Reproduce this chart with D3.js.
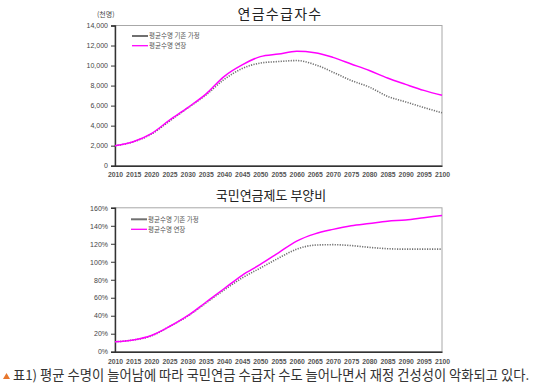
<!DOCTYPE html>
<html><head><meta charset="utf-8">
<script src="https://cdn.jsdelivr.net/npm/d3@7"></script>
<style>
body{margin:0;background:#fff;}
svg{display:block;font-family:"Liberation Sans",Arial,sans-serif;}
.kr{font-family:"Noto Sans CJK KR","Noto Sans",sans-serif;}
</style></head><body>
<svg id="c" width="550" height="383"></svg>
<script>
const years = [2010,2015,2020,2025,2030,2035,2040,2045,2050,2055,2060,2065,2070,2075,2080,2085,2090,2095,2100];
const seriesNames = ["평균수명 기존 가정","평균수명 연장"];
// 연금수급자수 (천명)
const recipBase = [2000,2380,3150,4450,5750,7050,8600,9700,10250,10400,10500,10100,9340,8510,7850,6930,6370,5810,5280];
const recipExt  = [2000,2400,3200,4550,5800,7150,8900,10060,10890,11150,11420,11290,10820,10160,9500,8750,8120,7520,7030];
// 국민연금제도 부양비 (%)
const depBase = [11,13,17.5,28,39.5,54,68.5,82,93,104,114,118.5,119,118,116,114.5,114,114,114];
const depExt  = [11,13,18,28,40,55,70,85,97,110,123,131,136,140,142.5,145,146.5,149,151.5];
const topTicks = [0,2000,4000,6000,8000,10000,12000,14000];
const botTicks = [0,20,40,60,80,100,120,140,160];
const titles = ["연금수급자수","국민연금제도 부양비"];
const unitLabel = "(천명)";
const caption = "표1) 평균 수명이 늘어남에 따라 국민연금 수급자 수도 늘어나면서 재정 건성성이 악화되고 있다.";

const svg = d3.select("#c");
const colBase = "#707070", colExt = "#ff00ff";

function panel(o){
  const x = d3.scaleLinear().domain([2010,2100]).range([o.left,o.right]);
  const y = d3.scaleLinear().domain(o.domain).range([o.bottom,o.top]);
  const g = svg.append("g");
  g.append("rect").attr("x",o.left).attr("y",o.top).attr("width",o.right-o.left).attr("height",o.bottom-o.top)
    .attr("fill","none").attr("stroke","#a8a8a8").attr("stroke-width",1);
  const ya = g.append("g").attr("transform",`translate(${o.left},0)`)
    .call(d3.axisLeft(y).tickValues(o.ticks).tickSize(4).tickPadding(3).tickFormat(o.fmt));
  ya.select(".domain").attr("stroke","#333").attr("stroke-width",1.4);
  ya.selectAll(".tick line").attr("stroke","#333");
  ya.selectAll("text").attr("font-size",7).attr("fill","#444");
  const xa = g.append("g").attr("transform",`translate(0,${o.bottom})`)
    .call(d3.axisBottom(x).tickValues(years).tickSize(0).tickPadding(o.xpad).tickFormat(d3.format("d")));
  xa.select(".domain").attr("stroke","#333").attr("stroke-width",1.4);
  xa.selectAll("text").attr("font-size",6.8).attr("fill","#555").attr("font-weight","bold");
  const line = d3.line().x((d,i)=>x(years[i])).y(d=>y(d)).curve(d3.curveMonotoneX);
  g.append("path").datum(o.base).attr("d",line).attr("fill","none").attr("stroke",colBase)
    .attr("stroke-width",1.6).attr("stroke-dasharray","1.2,1.3");
  g.append("path").datum(o.ext).attr("d",line).attr("fill","none").attr("stroke",colExt)
    .attr("stroke-width",1.5);
  const lg = g.append("g");
  [[colBase,o.legY[0],seriesNames[0]],[colExt,o.legY[1],seriesNames[1]]].forEach((s,i)=>{
    lg.append("line").attr("x1",o.legX).attr("x2",o.legX+16).attr("y1",s[1]).attr("y2",s[1])
      .attr("stroke",s[0]).attr("stroke-width",i===0?2:1.3);
    lg.append("text").attr("class","kr").attr("x",o.legX+17).attr("y",s[1]+2.3)
      .attr("font-size",6.5).attr("fill","#555").text(s[2]);
  });
  svg.append("text").attr("class","kr").attr("x",o.titleX).attr("y",o.titleY).attr("text-anchor","middle")
    .attr("font-size",o.titleSize).attr("letter-spacing",o.titleLS).attr("fill","#222").text(o.title);
}

panel({left:115,right:442,top:25.5,bottom:165.7,domain:[0,14000],ticks:topTicks,fmt:d3.format(","),
  base:recipBase,ext:recipExt,xpad:6,legX:132,legY:[36,45.7],title:titles[0],titleX:280,titleY:19,titleSize:14,titleLS:1.3});
panel({left:115,right:442,top:207.8,bottom:351.7,domain:[0,160],ticks:botTicks,fmt:d=>d+"%",
  base:depBase,ext:depExt,xpad:7,legX:131,legY:[219.3,229.3],title:titles[1],titleX:271,titleY:200,titleSize:13,titleLS:0});

svg.append("text").attr("class","kr").attr("x",97).attr("y",17).attr("font-size",7).attr("fill","#444").text(unitLabel);

svg.append("path").attr("d","M3,379 L6.5,373 L10,379 Z").attr("fill","#e8772e");
svg.append("text").attr("class","kr").attr("x",13).attr("y",379.5).attr("font-size",13.3).attr("fill","#333").text(caption);
</script>
</body></html>
